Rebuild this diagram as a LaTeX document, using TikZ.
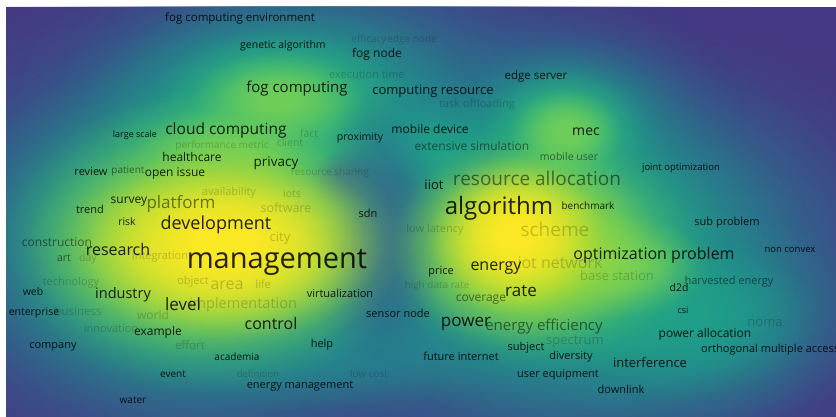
\documentclass[tikz,border=0pt]{standalone}
\usepackage{fontspec}
\setmainfont{Open Sans}
\usetikzlibrary{fadings}

% soft radial profile for the density blobs (white = opaque, black = clear);
% the fitted path edge sits at 25bp
\pgfdeclareradialshading{blobshade}{\pgfpointorigin}{%
  color(0bp)=(white); color(5bp)=(white); color(11bp)=(white!72!black);
  color(17bp)=(white!32!black); color(22bp)=(white!8!black);
  color(25bp)=(black); color(50bp)=(black)}
\pgfdeclarefading{blobfade}{\pgfuseshading{blobshade}}

% viridis steps used for the density map
\definecolor{vbg}{RGB}{70,56,132}
\definecolor{vtwo}{RGB}{62,76,138}
\definecolor{vthree}{RGB}{49,104,142}
\definecolor{vfour}{RGB}{38,130,142}
\definecolor{vfive}{RGB}{31,158,137}
\definecolor{vsix}{RGB}{53,183,121}
\definecolor{vseven}{RGB}{109,205,89}
\definecolor{veight}{RGB}{180,222,44}
\definecolor{vnine}{RGB}{250,232,37}

\tikzset{
  kw/.style={inner sep=0pt, text=black},
  lbldark/.style={text opacity=0.85},
  lblmid/.style={text opacity=0.5},
  lblfaint/.style={text opacity=0.2},
}
% soft density blob: colour, centre x, centre y, x radius, y radius
\newcommand\blob[5]{\fill[#1, path fading=blobfade] (#2,#3) ellipse [x radius=#4, y radius=#5];}
% keyword label: name, x, y, size, style, text
\newcommand\kw[6]{\node[kw,#5,font=\fontsize{#4}{#4}\selectfont] (#1) at (#2,#3) {#6};}

\begin{document}
\begin{tikzpicture}[x=1pt,y=-1pt]
\useasboundingbox (0,0) rectangle (836,417);
\fill[white] (0,0) rectangle (836,417);
\begin{scope}
\clip (6,7) rectangle (836,417);
\fill[vbg] (6,7) rectangle (836,417);
% density levels, lowest first
\blob{vtwo}{300}{240}{520}{330}
\blob{vtwo}{620}{270}{420}{280}
\blob{vtwo}{400}{100}{340}{170}
\blob{vthree}{220}{240}{400}{280}
\blob{vthree}{580}{260}{360}{250}
\blob{vthree}{310}{100}{300}{170}
\blob{vthree}{560}{130}{190}{140}
\blob{vfour}{205}{245}{320}{220}
\blob{vfour}{585}{260}{300}{220}
\blob{vfour}{300}{105}{250}{140}
\blob{vfour}{560}{135}{150}{110}
\blob{vfour}{430}{145}{170}{80}
\blob{vfour}{690}{320}{190}{120}
\blob{vfour}{330}{345}{240}{70}
\blob{vfive}{190}{240}{245}{190}
\blob{vfive}{570}{255}{235}{180}
\blob{vfive}{285}{105}{200}{110}
\blob{vfive}{560}{135}{115}{90}
\blob{vfive}{420}{150}{120}{55}
\blob{vfive}{680}{315}{140}{85}
\blob{vsix}{205}{238}{222}{160}
\blob{vsix}{550}{245}{182}{140}
\blob{vsix}{280}{100}{130}{75}
\blob{vsix}{565}{132}{85}{68}
\blob{vsix}{240}{150}{150}{70}
\blob{vsix}{555}{175}{70}{60}
% darker valley between the two main clusters
\blob{vthree}{378}{235}{70}{150}
\blob{vthree}{345}{180}{40}{30}
\blob{vseven}{212}{240}{210}{150}
\blob{vseven}{535}{245}{160}{120}
\blob{vseven}{278}{100}{90}{50}
\blob{vseven}{566}{132}{58}{45}
\blob{vseven}{230}{150}{100}{45}
\blob{vseven}{620}{265}{90}{55}
\blob{veight}{215}{245}{190}{115}
\blob{veight}{525}{245}{135}{105}
\blob{vnine}{225}{245}{160}{95}
\blob{vnine}{515}{235}{90}{80}

% keywords
\kw{fce}{240}{18}{11.5}{lbldark}{fog computing environment}
\kw{gal}{283}{46}{10.5}{lbldark}{genetic algorithm}
\kw{efc}{369}{40}{10}{lblfaint}{efficacy}
\kw{edn}{412}{40}{10}{lblfaint}{edge node}
\kw{fgn}{377}{54}{12}{lbldark}{fog node}
\kw{ext}{367}{75}{11}{lblfaint}{execution time}
\kw{eds}{536}{77}{11.5}{lbldark}{edge server}
\kw{fgc}{297}{89}{15}{lbldark}{fog computing}
\kw{cre}{433}{91}{13}{lbldark}{computing resource}
\kw{tof}{477}{105}{11}{lblfaint}{task offloading}
\kw{lsc}{135}{135}{9}{lbldark}{large scale}
\kw{clc}{226}{130}{15.5}{lbldark}{cloud computing}
\kw{fct}{309}{134}{10.5}{lblfaint}{fact}
\kw{prx}{360}{138}{10.5}{lbldark}{proximity}
\kw{mdv}{430}{129}{12}{lbldark}{mobile device}
\kw{mec}{586}{132}{14}{lbldark}{mec}
\kw{pfm}{222}{146}{10}{lblfaint}{performance metric}
\kw{cli}{290}{143}{10.5}{lblfaint}{client}
\kw{exs}{472}{146}{12}{lblmid}{extensive simulation}
\kw{hlc}{192}{157}{12}{lbldark}{healthcare}
\kw{prv}{276}{163}{13.5}{lbldark}{privacy}
\kw{rsh}{330}{173}{10}{lblfaint}{resource sharing}
\kw{mbu}{569}{157}{10.5}{lblmid}{mobile user}
\kw{jop}{681}{168}{9.5}{lbldark}{joint optimization}
\kw{rev}{91}{172}{11}{lbldark}{review}
\kw{pat}{128}{171}{10}{lblmid}{patient}
\kw{opi}{175}{174}{12}{lbldark}{open issue}
\kw{iio}{434}{185}{13}{lbldark}{iiot}
\kw{ral}{537}{178}{19}{lblmid}{resource allocation}
\kw{avl}{229}{193}{11}{lblfaint}{availability}
\kw{iot}{292}{194}{10.5}{lblfaint}{iots}
\kw{trd}{90}{209}{11}{lbldark}{trend}
\kw{srv}{129}{202}{12}{lbldark}{survey}
\kw{plf}{181}{204}{17}{lblmid}{platform}
\kw{sfw}{286}{208}{12.5}{lblfaint}{software}
\kw{sdn}{368}{213}{11}{lbldark}{sdn}
\kw{alg}{499}{208}{24}{lbldark}{algorithm}
\kw{bmk}{588}{206}{10}{lbldark}{benchmark}
\kw{rsk}{127}{222}{10.5}{lbldark}{risk}
\kw{dev}{216}{225}{18}{lbldark}{development}
\kw{cty}{280}{238}{13}{lblfaint}{city}
\kw{llt}{435}{230}{11}{lblfaint}{low latency}
\kw{sch}{555}{229}{19}{lblfaint}{scheme}
\kw{sbp}{727}{223}{11}{lbldark}{sub problem}
\kw{cns}{57}{242}{12}{lblmid}{construction}
\kw{rsc}{118}{249}{16}{lbldark}{research}
\kw{art}{64}{258}{10.5}{lblmid}{art}
\kw{day}{88}{259}{10.5}{lblfaint}{day}
\kw{itg}{160}{257}{11}{lblfaint}{integration}
\kw{mgt}{277}{262}{29}{lbldark}{management}
\kw{opp}{654}{255}{16}{lbldark}{optimization problem}
\kw{ncv}{790}{250}{9.5}{lbldark}{non convex}
\kw{prc}{441}{272}{11}{lbldark}{price}
\kw{eng}{496}{268}{16}{lbldark}{energy}
\kw{itn}{560}{262}{16}{lblfaint}{iot network}
\kw{bst}{617}{276}{13}{lblfaint}{base station}
\kw{hve}{729}{282}{11}{lblmid}{harvested energy}
\kw{dtd}{679}{288}{10.5}{lbldark}{d2d}
\kw{tch}{71}{283}{11}{lblfaint}{technology}
\kw{web}{33}{292}{10.5}{lbldark}{web}
\kw{ind}{123}{295}{14.5}{lbldark}{industry}
\kw{lvl}{183}{304}{17}{lbldark}{level}
\kw{obj}{193}{282}{11}{lblfaint}{object}
\kw{are}{227}{285}{16}{lblfaint}{area}
\kw{lif}{263}{284}{11}{lblfaint}{life}
\kw{vrt}{340}{293}{11}{lbldark}{virtualization}
\kw{hdr}{437}{286}{10}{lblfaint}{high data rate}
\kw{rte}{521}{291}{17}{lbldark}{rate}
\kw{cov}{481}{300}{12}{lblmid}{coverage}
\kw{ent}{34}{313}{10.5}{lbldark}{enterprise}
\kw{bus}{78}{311}{11.5}{lblfaint}{business}
\kw{wld}{153}{315}{12}{lblfaint}{world}
\kw{imp}{243}{305}{14.5}{lblfaint}{implementation}
\kw{csi}{683}{310}{9}{lbldark}{csi}
\kw{nom}{765}{323}{13}{lblfaint}{noma}
\kw{sen}{398}{313}{11}{lbldark}{sensor node}
\kw{ctl}{271}{323}{16}{lbldark}{control}
\kw{pow}{466}{324}{17}{lbldark}{power}
\kw{eef}{544}{327}{15}{lblmid}{energy efficiency}
\kw{inn}{111}{329}{11}{lblfaint}{innovation}
\kw{exm}{158}{332}{12}{lbldark}{example}
\kw{pal}{705}{334}{12}{lbldark}{power allocation}
\kw{spc}{575}{342}{13}{lblfaint}{spectrum}
\kw{cmp}{53}{347}{11}{lbldark}{company}
\kw{efo}{190}{345}{11.5}{lblfaint}{effort}
\node[kw,lbldark,font=\fontsize{11}{11}\selectfont,anchor=west] (oma) at (701,350) {orthogonal multiple access};
\kw{hlp}{322}{345}{11}{lbldark}{help}
\kw{aca}{237}{357}{10}{lbldark}{academia}
\kw{fin}{461}{356}{11}{lbldark}{future internet}
\kw{sbj}{526}{348}{11}{lbldark}{subject}
\kw{div}{571}{357}{11}{lbldark}{diversity}
\kw{itf}{650}{363}{13}{lbldark}{interference}
\kw{evt}{173}{374}{10}{lbldark}{event}
\kw{def}{258}{374}{9.5}{lblfaint}{definition}
\kw{lco}{369}{374}{10}{lblfaint}{low cost}
\kw{ueq}{558}{375}{11}{lbldark}{user equipment}
\kw{enm}{300}{386}{11}{lbldark}{energy management}
\kw{dlk}{621}{389}{11}{lbldark}{downlink}
\kw{wat}{133}{400}{10}{lbldark}{water}
\end{scope}
\end{tikzpicture}
\end{document}
